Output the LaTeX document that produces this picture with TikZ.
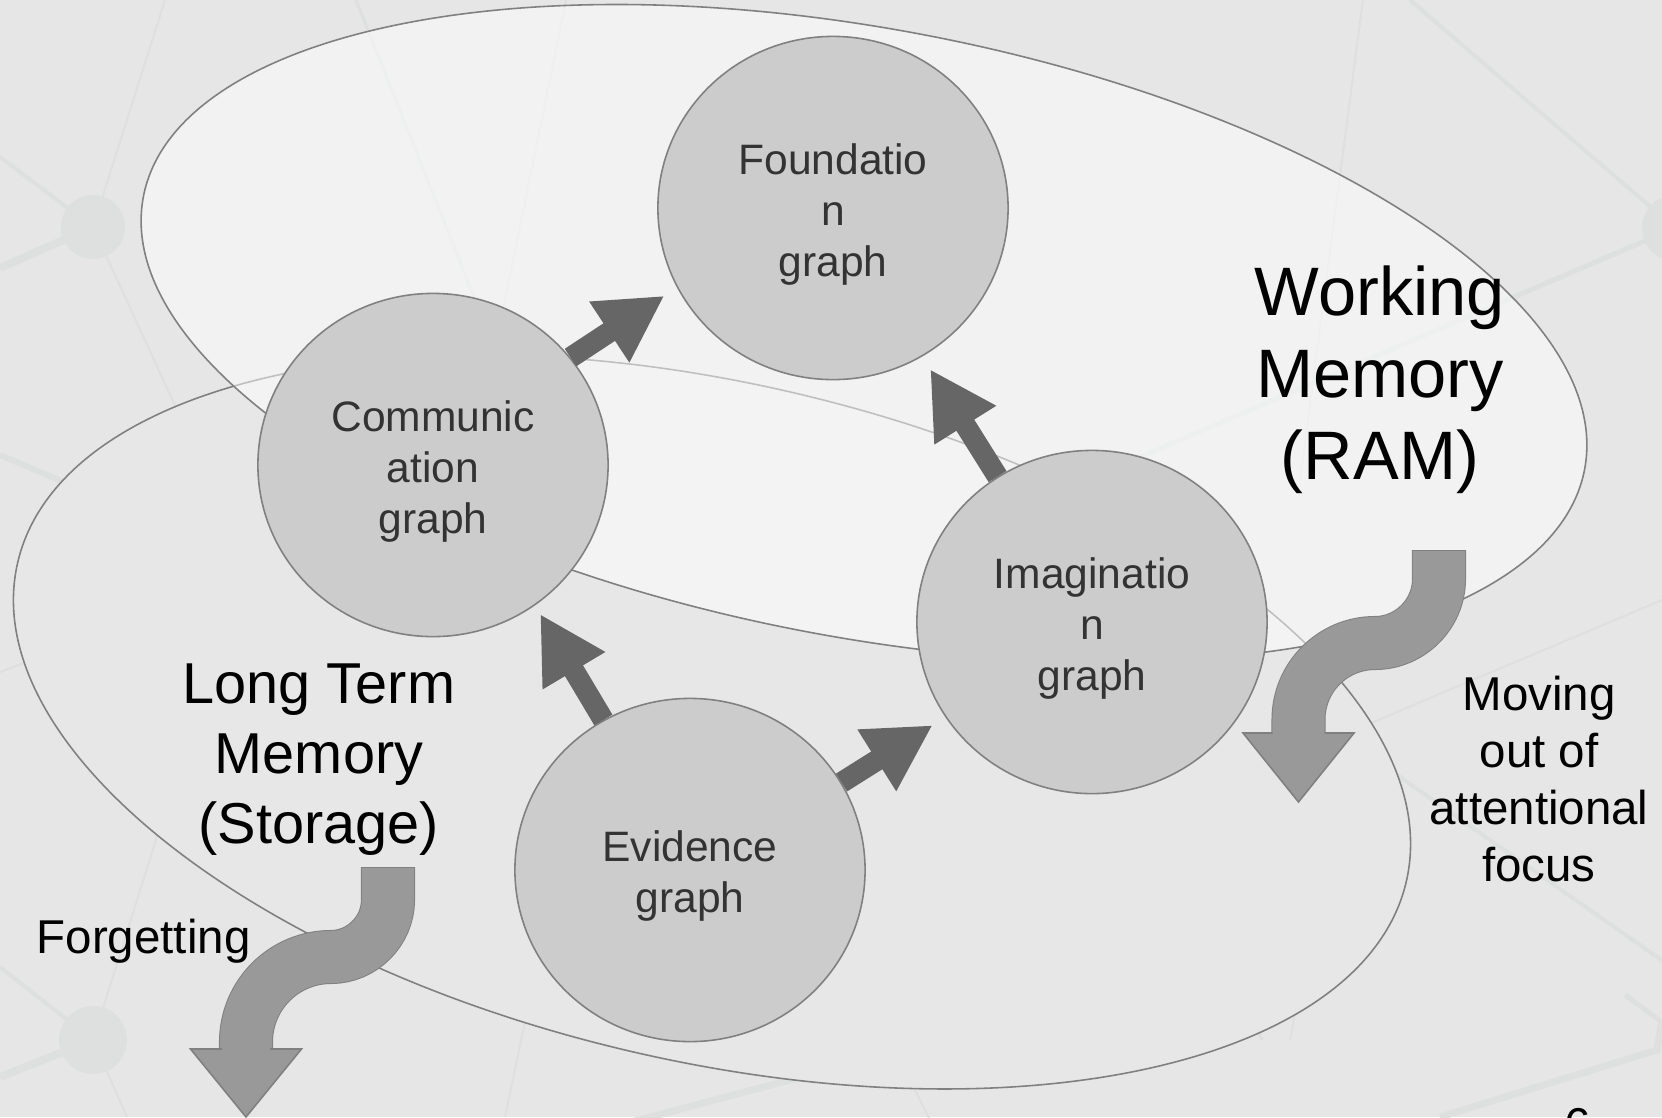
\documentclass[tikz,border=0pt]{standalone}
\usepackage{fontspec}
\setmainfont{Liberation Sans}
\usepackage{tikz}
\usetikzlibrary{shapes.geometric, arrows.meta}
\definecolor{bggray}{HTML}{E6E6E6}
\definecolor{netgray}{HTML}{DEE0DF}
\definecolor{ltmfill}{HTML}{E7E7E7}
\definecolor{edgegray}{HTML}{808080}
\definecolor{nodegray}{HTML}{CCCCCC}
\definecolor{txtgray}{HTML}{333333}
\definecolor{arrowgray}{HTML}{666666}
\definecolor{bendgray}{HTML}{999999}
\newcommand{\toppad}{\rule{0pt}{12.3pt}}

\begin{document}
\begin{tikzpicture}[x=0.01cm, y=-0.01cm,
  graphnode/.style={ellipse, draw=edgegray, fill=nodegray, line width=0.45pt, minimum width=3.5cm, minimum height=3.43cm, inner sep=0pt, align=center, text=txtgray, font=\fontsize{12.1}{14.5}\selectfont},
  bigarrow/.style={arrowgray, line width=0.21cm, -{Triangle[length=0.66cm, width=0.68cm]}},
  zone/.style={draw=edgegray, line width=0.45pt},
  bendout/.style={edgegray, line width=0.54cm},
  bendin/.style={bendgray, line width=0.52cm},
  memlabel/.style={align=center, inner sep=0pt, text=black}]
  \useasboundingbox (0,0) rectangle (1662,1117);
  \clip (0,0) rectangle (1662,1117);
  \fill[bggray] (0,0) rectangle (1662,1117);

  \fill[netgray] (93,227) circle[radius=0.32cm];
  \fill[netgray] (93,1040) circle[radius=0.34cm];
  \fill[netgray] (1675,228) circle[radius=0.33cm];
  \draw[netgray, line width=0.04cm] (93,227) -- (0,157);
  \draw[netgray, line width=0.08cm] (93,227) -- (0,268);
  \draw[netgray, line width=0.02cm] (93,227) -- (165,0);
  \draw[netgray, line width=0.02cm] (93,227) -- (200,460);
  \draw[netgray, line width=0.03cm] (356,0) -- (495,350);
  \draw[netgray, line width=0.02cm] (566,0) -- (495,350);
  \draw[netgray, line width=0.06cm] (0,455) -- (200,540);
  \draw[netgray, line width=0.02cm] (0,672) -- (60,650);
  \draw[netgray, line width=0.04cm] (1675,228) -- (1410,0);
  \draw[netgray, line width=0.05cm] (1675,228) -- (1110,470);
  \draw[netgray, line width=0.02cm] (1363,0) -- (1300,480);
  \draw[netgray, line width=0.04cm] (93,1040) -- (0,967);
  \draw[netgray, line width=0.08cm] (93,1040) -- (0,1077);
  \draw[netgray, line width=0.02cm] (93,1040) -- (200,700);
  \draw[netgray, line width=0.02cm] (93,1040) -- (127,1117);
  \draw[netgray, line width=0.02cm] (540,950) -- (505,1117);
  \draw[netgray, line width=0.07cm] (820,1072) -- (620,1125);
  \draw[netgray, line width=0.02cm] (900,1060) -- (935,1130);
  \draw[netgray, line width=0.02cm] (1300,753) -- (1662,600);
  \draw[netgray, line width=0.04cm] (1340,735) -- (1680,973);
  \draw[netgray, line width=0.03cm] (1200,910) -- (1262,1040);
  \draw[netgray, line width=0.02cm] (1320,880) -- (1290,1040);
  \draw[netgray, line width=0.07cm] (1440,1117) -- (1657,1050) -- (1662,1020);
  \draw[netgray, line width=0.05cm] (1625,995) -- (1662,1022);

  \draw[zone, fill=ltmfill, rotate around={-12.9:(712,722)}] (712,722) ellipse [x radius=7.12cm, y radius=3.39cm];
  \draw[zone, fill=white, fill opacity=0.5, rotate around={-10.7:(864,333)}] (864,333) ellipse [x radius=7.33cm, y radius=3.04cm];

  \node[graphnode] (found) at (833,208) {\toppad Foundatio\\n\\graph};
  \node[graphnode] (comm) at (433,465) {\toppad Communic\\ation\\graph};
  \node[graphnode] (imag) at (1092,622) {\toppad Imaginatio\\n\\graph};
  \node[graphnode] (evid) at (690,870) {\toppad Evidence\\graph};

  \draw[bigarrow, shorten >=0.15cm] (comm.38) -- (found.207);
  \draw[bigarrow, shorten >=0.15cm] (imag.123) -- (found.301);
  \draw[bigarrow, shorten >=0.1cm] (evid.120) -- (comm.306);
  \draw[bigarrow, shorten >=0.15cm] (evid.30) -- (imag.213);

  \draw[bendout] (1439,550) -- (1439,579) .. controls (1439,614) and (1410,643) .. (1375,643) .. controls (1333,643) and (1298.5,677) .. (1298.5,719.5) -- (1298.5,734);
  \draw[bendin] (1439,551) -- (1439,579) .. controls (1439,614) and (1410,643) .. (1375,643) .. controls (1333,643) and (1298.5,677) .. (1298.5,719.5) -- (1298.5,734);
  \fill[bendgray] (1243,733) -- (1298.5,802) -- (1354,733) -- cycle;
  \draw[edgegray, line width=0.45pt] (1272.5,733) -- (1243,733) -- (1298.5,802) -- (1354,733) -- (1324.5,733);

  \draw[bendout] (388,867) -- (388,900) .. controls (388,931) and (362,957) .. (331,957) .. controls (284,957) and (246,995) .. (246,1042) -- (246,1050);
  \draw[bendin] (388,868) -- (388,900) .. controls (388,931) and (362,957) .. (331,957) .. controls (284,957) and (246,995) .. (246,1042) -- (246,1050);
  \fill[bendgray] (190.5,1049) -- (246,1117) -- (301.5,1049) -- cycle;
  \draw[edgegray, line width=0.45pt] (222,1049) -- (190.5,1049) -- (246,1117) -- (301.5,1049) -- (270,1049);

  \node[memlabel, font=\fontsize{19.5}{23.3}\selectfont] (wm) at (1380,380) {Working\\Memory\\(RAM)};
  \node[memlabel, font=\fontsize{16.4}{19.9}\selectfont] (ltm) at (319,760) {Long Term\\Memory\\(Storage)};
  \node[memlabel, font=\fontsize{13.5}{16.3}\selectfont] (moving) at (1539,779) {Moving\\out of\\attentional\\focus};
  \node[memlabel, font=\fontsize{13.5}{16.3}\selectfont, anchor=base west] (forget) at (36,953) {Forgetting};
  \node[memlabel, font=\fontsize{13.5}{16.3}\selectfont, anchor=north] (page) at (1578,1108) {6};
\end{tikzpicture}
\end{document}
